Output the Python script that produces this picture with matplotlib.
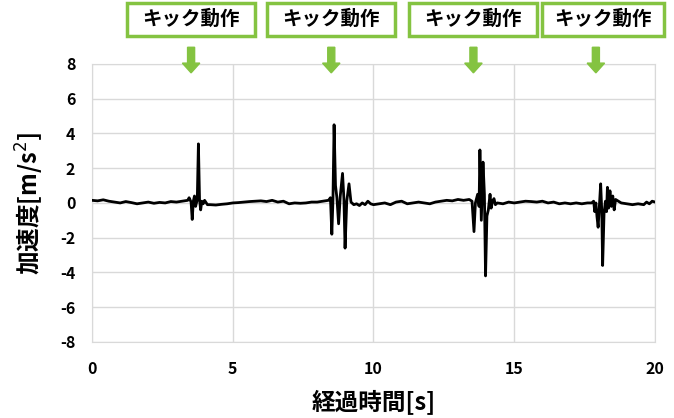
import matplotlib.pyplot as plt
import matplotlib.transforms as mtransforms
from matplotlib.patches import Rectangle, FancyArrow

plt.rcParams['font.family'] = ['Noto Sans CJK JP', 'DejaVu Sans']
plt.rcParams['axes.unicode_minus'] = False

# time [s] and acceleration [m/s^2]
time_s = [
    0.0, 0.2, 0.4, 0.6, 0.8, 1.0, 1.2, 1.4, 1.6, 1.8, 2.0, 2.2, 2.4, 2.6, 2.8, 3.0, 3.2, 3.4,
    3.45, 3.52, 3.56, 3.60, 3.64, 3.68, 3.74, 3.78, 3.82, 3.86, 3.90, 3.95, 4.0, 4.1,
    4.2, 4.4, 4.6, 4.8, 5.0, 5.2, 5.4, 5.6, 5.8, 6.0, 6.2, 6.4, 6.6, 6.8, 7.0, 7.2, 7.4, 7.6,
    7.8, 8.0, 8.2, 8.4,
    8.47, 8.52, 8.56, 8.60, 8.65, 8.70, 8.76, 8.82, 8.90, 8.95, 8.99, 9.05, 9.13, 9.2, 9.3,
    9.4, 9.5, 9.6, 9.7, 9.8, 9.9, 10.0,
    10.2, 10.4, 10.6, 10.8, 11.0, 11.2, 11.4, 11.6, 11.8, 12.0, 12.2, 12.4, 12.6, 12.8, 13.0,
    13.2, 13.4,
    13.5, 13.57, 13.62, 13.70, 13.75, 13.78, 13.83, 13.89, 13.94, 13.98, 14.03, 14.08, 14.14,
    14.18, 14.23, 14.28, 14.33, 14.4, 14.6, 14.8, 15.0,
    15.2, 15.4, 15.6, 15.8, 16.0, 16.2, 16.4, 16.6, 16.8, 17.0, 17.2, 17.4, 17.6, 17.75,
    17.82, 17.86, 17.90, 17.94, 17.98, 18.02, 18.07, 18.11, 18.14, 18.19, 18.24, 18.28, 18.31,
    18.35, 18.40, 18.45, 18.50, 18.55, 18.6, 18.7, 18.8, 19.0, 19.2, 19.4, 19.6, 19.7, 19.8,
    19.9, 20.0,
]
accel = [
    0.15, 0.12, 0.18, 0.10, 0.05, 0.0, 0.08, 0.02, -0.05, 0.0, 0.05, -0.02, 0.03, 0.0, 0.08, 0.05, 0.10, 0.15,
    0.30, 0.05, -0.95, 0.10, 0.40, -0.20, 0.20, 3.40, 0.20, -0.40, 0.10, -0.05, 0.15, -0.10,
    -0.10, -0.12, -0.08, -0.05, 0.0, 0.02, 0.05, 0.08, 0.10, 0.12, 0.08, 0.15, 0.05, 0.10, -0.05, 0.0, -0.02, 0.0,
    0.05, 0.05, 0.10, 0.15,
    0.30, -1.80, 0.20, 4.50, 1.00, 0.30, -1.20, 0.40, 1.70, 0.20, -2.60, 0.10, 1.10, 0.05, -0.10,
    -0.05, -0.15, 0.0, -0.10, 0.10, -0.05, -0.10,
    -0.05, 0.0, -0.10, 0.05, 0.10, -0.05, 0.0, 0.05, 0.0, -0.05, 0.05, 0.10, 0.15, 0.12, 0.20,
    0.15, 0.20,
    0.10, -1.65, 0.0, 0.50, -0.20, 3.05, -1.00, 2.35, 0.50, -4.20, -0.75, -0.40, 0.50,
    -0.30, 0.10, 0.25, -0.10, 0.0, -0.05, 0.05, 0.0,
    0.05, 0.10, 0.08, 0.05, 0.10, 0.0, 0.05, -0.05, 0.0, -0.05, 0.0, -0.05, 0.0, 0.0,
    0.10, -0.50, 0.0, -0.80, -1.40, -0.30, 1.10, -0.50, -3.60, -0.60, 0.10, -0.50, 0.90,
    -0.30, 0.70, -0.20, 0.40, -0.40, 0.20, 0.10, 0.0, -0.05, -0.10, -0.05, -0.10, 0.05, -0.05,
    0.10, 0.05,
]

kick_label = 'キック動作'
kick_times = [3.52, 8.5, 13.55, 17.9]      # arrow positions
box_centers = [3.52, 8.5, 13.55, 18.15]
box_widths = [4.55, 4.55, 4.55, 4.35]

green = '#84c341'
grid_col = '#d9d9d9'

fig = plt.figure(figsize=(6.74, 4.18), dpi=100)
ax = fig.add_axes([0.1365, 0.182, 0.8353, 0.665])

ax.plot(time_s, accel, color='black', lw=2, zorder=3)

ax.set_xlim(0, 20)
ax.set_ylim(-8, 8)
ax.set_xticks([0, 5, 10, 15, 20])
ax.set_yticks(range(-8, 9, 2))
ax.grid(True, color=grid_col, lw=1)
ax.set_axisbelow(True)
for s in ax.spines.values():
    s.set_color(grid_col)
ax.tick_params(length=0, labelsize=11.5)
ax.tick_params(axis='x', pad=14)
ax.tick_params(axis='y', pad=12)
for lab in ax.get_xticklabels() + ax.get_yticklabels():
    lab.set_fontweight('bold')

ax.set_xlabel('経過時間[s]', fontsize=17, fontweight='bold', labelpad=9)
ax.set_ylabel('加速度[m/s$^2$]', fontsize=17, fontweight='bold', labelpad=10)

trans = mtransforms.blended_transform_factory(ax.transData, ax.transAxes)
for t, c, w in zip(kick_times, box_centers, box_widths):
    rect = Rectangle((c - w / 2, 1.101), w, 0.118, transform=trans,
                     facecolor='white', edgecolor=green, lw=2.5, clip_on=False)
    ax.add_patch(rect)
    ax.text(c, 1.16, kick_label, transform=trans, ha='center', va='center',
            fontsize=14, fontweight='bold')
    arr = FancyArrow(t, 1.06, 0, -0.092, width=0.25, head_width=0.62,
                     head_length=0.035, length_includes_head=True,
                     transform=trans, color=green, clip_on=False, zorder=4)
    ax.add_patch(arr)

fig.savefig('out.png', dpi=100)
